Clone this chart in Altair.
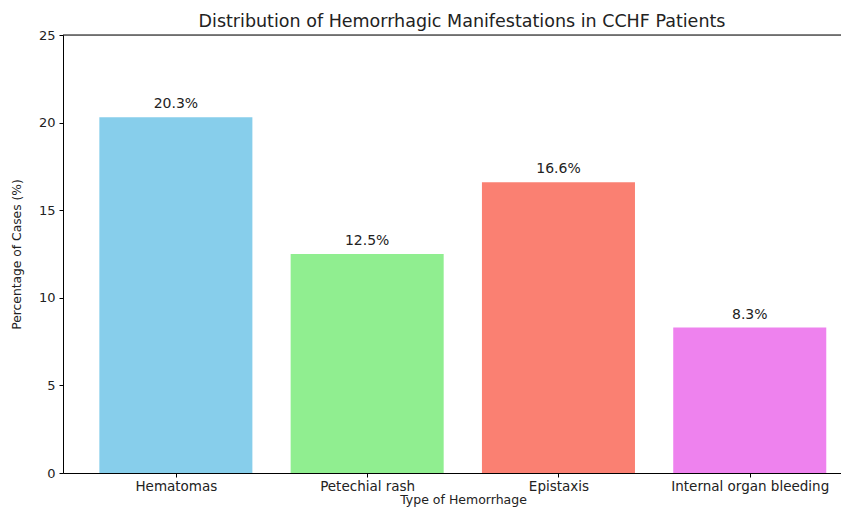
import json
import altair as alt
import pandas as pd

categories = ["Hematomas", "Petechial rash", "Epistaxis", "Internal organ bleeding"]
percentages = [20.3, 12.5, 16.6, 8.3]
colors = ["#87CEEB", "#90EE90", "#FA8072", "#EE82EE"]
y_ticks = [0, 5, 10, 15, 20, 25]

df = pd.DataFrame({
    "category": categories,
    "pct": percentages,
    "idx": list(range(len(categories))),
})
df["x0"] = df["idx"] - 0.4
df["x1"] = df["idx"] + 0.4
df["label"] = [f"{v:.1f}%" for v in percentages]

W, H = 778, 438
FONT = "DejaVu Sans"
label_expr = json.dumps(categories) + "[datum.value]"

xscale = alt.Scale(domain=[-0.59, 3.477], nice=False, zero=False)
yscale = alt.Scale(domain=[0, 25], nice=False)

base = alt.Chart(df)

bars = base.mark_bar().encode(
    x=alt.X("x0:Q", scale=xscale,
            axis=alt.Axis(values=[0, 1, 2, 3], labelExpr=label_expr,
                          title="Type of Hemorrhage", titleFont=FONT, titleFontSize=12.5,
                          titleFontWeight="normal", titleColor="#222", titleX=400,
                          titlePadding=1,
                          labelFont=FONT, labelFontSize=13.5, labelColor="#222",
                          labelPadding=2, tickSize=4, tickColor="#000",
                          domainColor="#000", grid=False, labelFlush=False)),
    x2="x1:Q",
    y=alt.Y("pct:Q", scale=yscale,
            axis=alt.Axis(values=y_ticks, title="Percentage of Cases (%)",
                          titleFont=FONT, titleFontSize=12.3, titleFontWeight="normal",
                          titleColor="#222", titlePadding=15,
                          labelFont=FONT, labelFontSize=13, labelColor="#222",
                          labelPadding=4, tickSize=4, tickColor="#000",
                          domainColor="#000", grid=False)),
    y2=alt.datum(0),
    color=alt.Color("category:N", scale=alt.Scale(domain=categories, range=colors),
                    legend=None),
)

text = base.mark_text(baseline="bottom", dy=-6, font=FONT, fontSize=14, color="#222").encode(
    x=alt.X("idx:Q", scale=xscale),
    y=alt.Y("pct:Q", scale=yscale),
    text="label:N",
)

top_line = alt.Chart(pd.DataFrame({"a": [0]})).mark_rule(color="#000", strokeWidth=1).encode(
    x=alt.value(0), x2=alt.value(W), y=alt.value(0)
)

chart = alt.layer(bars, text, top_line).properties(
    width=W, height=H,
    title=alt.TitleParams("Distribution of Hemorrhagic Manifestations in CCHF Patients",
                          font=FONT, fontSize=17.5, fontWeight="normal", color="#222",
                          offset=-1, dx=10),
    autosize=alt.AutoSizeParams(type="none"),
    padding={"left": 55, "top": 27, "right": 0, "bottom": 35},
).configure_view(stroke=None).configure(background="white")

chart.save("out.html", embed_options={"renderer": "svg", "actions": False})
